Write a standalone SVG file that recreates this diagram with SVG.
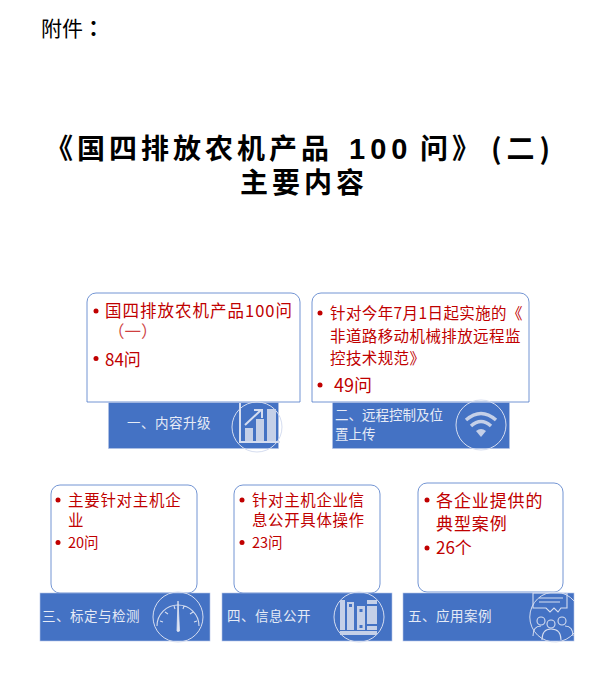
<svg xmlns="http://www.w3.org/2000/svg" width="616" height="688" viewBox="0 0 616 688">
<style>
text{font-family:"Noto Sans CJK SC","Liberation Sans",sans-serif}
.title{font-size:28px;font-weight:700;fill:#000;letter-spacing:4px}
.card{fill:#fff;stroke:#4472c4;stroke-width:1;stroke-opacity:.75}
.band{fill:#4472c4;stroke:#b4c4e6;stroke-width:.6}
.red{fill:#c00000}
.lab{fill:#e6ebf6;font-size:13.5px;letter-spacing:.5px}
.ring{fill:none;stroke:#d5ddf0;stroke-width:1}
.ic{fill:#c5d0e8}
.il{fill:none;stroke:#d5ddf0;stroke-width:1.1}
.il2{fill:none;stroke:#d5ddf0;stroke-width:2}
</style>
<rect width="616" height="688" fill="#fff"/>
<text x="41" y="36" font-size="21" fill="#000">附件<tspan style="font-family:'Noto Sans CJK TC',sans-serif;font-weight:700">：</tspan></text>
<g id="title">
<text class="title" x="45" y="159">《国四排放农机产品<tspan x="349" style="font-family:'Liberation Sans',sans-serif;letter-spacing:5px;font-size:29px">100</tspan><tspan x="420">问》</tspan><tspan x="491" style="letter-spacing:5px">(二)</tspan></text>
<text class="title" x="240" y="193">主要内容</text>
</g>
<g id="connectors"></g>
<g id="node1">
<path class="card" d="M87 402V302a9 9 0 0 1 9-9H291a9 9 0 0 1 9 9V402Z"/>
<rect class="band" x="108.500" y="402.500" width="170" height="46"/>
<circle class="red" cx="96" cy="311" r="2.500"/><circle class="red" cx="96" cy="358.500" r="2.500"/>
<text class="red" x="105" y="317" font-size="16.500" letter-spacing="1">国四排放农机产品100问</text>
<text class="red" x="108" y="338" font-size="16.500" opacity=".75">（一）</text>
<text class="red" x="105" y="366" font-size="17">84问</text>
<text class="lab" x="127" y="428">一、内容升级</text>
<circle class="ring" cx="257" cy="427" r="25"/>
<path class="il2" d="M240 403V442H280"/>
<path class="ic" d="M245 428h8v13h-8zM256 419h8v22h-8zM267 409h9v32h-9z"/>
<path class="il2" d="M245 425L261 410M254 410h8v8"/>
</g>
<g id="node2">
<path class="card" d="M312 402V302a9 9 0 0 1 9-9H520a9 9 0 0 1 9 9V402Z"/>
<rect class="band" x="332.500" y="402.500" width="177" height="46"/>
<circle class="red" cx="320" cy="313" r="2.500"/><circle class="red" cx="320" cy="385" r="2.500"/>
<text class="red" x="330" y="319" font-size="15.500" letter-spacing=".4">针对今年7月1日起实施的《</text>
<text class="red" x="330" y="341.500" font-size="15.500" letter-spacing=".4">非道路移动机械排放远程监</text>
<text class="red" x="330" y="364" font-size="15.500" letter-spacing=".4">控技术规范》</text>
<text class="red" x="334" y="392" font-size="18">49问</text>
<text class="lab" x="335" y="420" style="letter-spacing:0">二、远程控制及位</text>
<text class="lab" x="335" y="439" style="letter-spacing:0">置上传</text>
<circle class="ring" cx="481" cy="425" r="25"/>
<g fill="none" stroke="#c5d0e8" stroke-width="3.500"><path d="M466 420Q481 407 496 420"/><path d="M471 426Q481 417 491 426"/></g>
<path class="ic" d="M476 431Q481 427 486 431L481 437Z"/>
</g>
<g id="node3">
<rect class="card" x="51" y="485" width="146" height="108" rx="9"/>
<rect class="band" x="40" y="593" width="170" height="48"/>
<circle class="red" cx="58" cy="500" r="2.500"/><circle class="red" cx="58" cy="542.500" r="2.500"/>
<text class="red" x="68" y="506" font-size="15.500" letter-spacing=".7">主要针对主机企</text>
<text class="red" x="68" y="526" font-size="15.500">业</text>
<text class="red" x="68" y="548" font-size="14.500">20问</text>
<text class="lab" x="42" y="621">三、标定与检测</text>
<circle class="ring" cx="178" cy="617" r="25"/>
<path class="il" d="M157 626A21 21 0 0 1 199 626M160 621l3 1M165 612l3 2M174 606l1 3M184 606l-1 3M193 612l-3 2M197 621l-3 1"/>
<path d="M177 631L178 601L179.500 631Q178 632 177 631Z" fill="#dfe5f3" stroke="#dfe5f3" stroke-width=".8"/>
</g>
<g id="node4">
<rect class="card" x="234" y="485" width="146" height="108" rx="9"/>
<rect class="band" x="222" y="593" width="170" height="48"/>
<circle class="red" cx="242" cy="500" r="2.500"/><circle class="red" cx="242" cy="542.500" r="2.500"/>
<text class="red" x="252" y="506" font-size="15.500" letter-spacing=".6">针对主机企业信</text>
<text class="red" x="252" y="526" font-size="15.500" letter-spacing=".6">息公开具体操作</text>
<text class="red" x="252" y="548" font-size="14.500">23问</text>
<text class="lab" x="227" y="621">四、信息公开</text>
<circle class="ring" cx="359" cy="617" r="25"/>
<path class="ic" d="M340 600h5v30h-5zM347 602h7v28h-7zM357 606h8v24h-8zM367 600h10v4h-10zM367 606h10v18h-10zM340 631h37v4h-37zM367 626h10v4h-10z"/>
<path fill="#4472c4" d="M349 604h3v3h-3zM359.500 609h3v3h-3zM359.500 625h3v3h-3z"/>
</g>
<g id="node5">
<rect class="card" x="418" y="483" width="145" height="109" rx="9"/>
<rect class="band" x="403" y="593" width="171" height="48"/>
<circle class="red" cx="427" cy="500" r="2.500"/><circle class="red" cx="427" cy="548" r="2.500"/>
<text class="red" x="436" y="507" font-size="17" letter-spacing=".9">各企业提供的</text>
<text class="red" x="436" y="530" font-size="17" letter-spacing=".9">典型案例</text>
<text class="red" x="436" y="554" font-size="17">26个</text>
<text class="lab" x="408" y="621">五、应用案例</text>
<path class="ring" d="M574 601A25 25 0 1 0 574 633"/>
<path class="il" d="M533 593H567V608H561L558 612L554 608L550 612L546 608H533ZM539 598H563M539 602H560"/>
<path class="il" d="M533 636Q533 626 541 626M565 626Q573 626 573 636M542 640Q542 629 551 629Q561 629 561 640"/>
<circle class="il" cx="541" cy="621" r="4"/><circle class="il" cx="551" cy="624" r="4"/><circle class="il" cx="562" cy="621" r="4"/>
</g>
</svg>
